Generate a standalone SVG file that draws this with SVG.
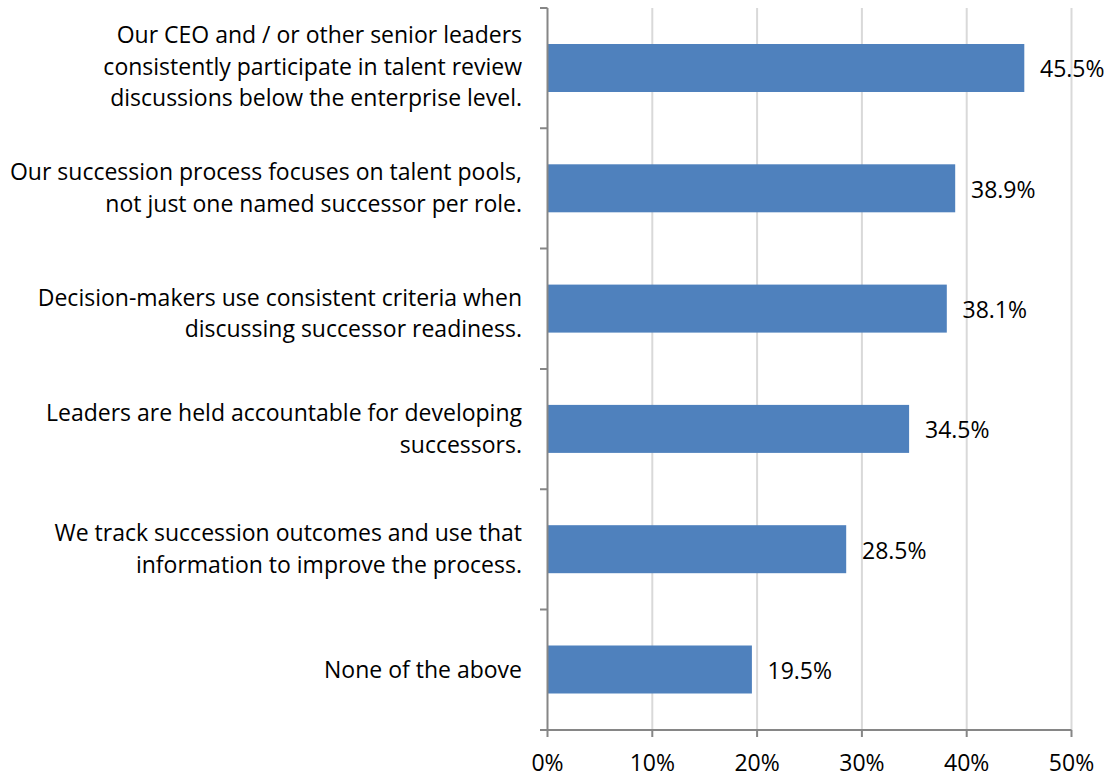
<svg xmlns="http://www.w3.org/2000/svg" width="1112" height="777" viewBox="0 0 1112 777">
<style>
.t{font-family:"Open Sans","Liberation Sans",Arial,sans-serif;font-size:23px;fill:#000}
.c{text-anchor:end}
.m{text-anchor:middle}
.g{stroke:#D9D9D9;stroke-width:2}
.a{stroke:#868686;stroke-width:2;fill:none}
.b{fill:#4F81BD}
</style>
<rect width="1112" height="777" fill="#fff"/>
<g id="grid">
<line class="g" x1="652.3" y1="8" x2="652.3" y2="730"/>
<line class="g" x1="757.1" y1="8" x2="757.1" y2="730"/>
<line class="g" x1="861.9" y1="8" x2="861.9" y2="730"/>
<line class="g" x1="966.7" y1="8" x2="966.7" y2="730"/>
<line class="g" x1="1071.5" y1="8" x2="1071.5" y2="730"/>
</g>
<g id="bars">
<rect id="bar1" class="b" x="547.5" y="44" width="476.8" height="48"/>
<rect id="bar2" class="b" x="547.5" y="164.3" width="407.7" height="48"/>
<rect id="bar3" class="b" x="547.5" y="284.6" width="399.3" height="48"/>
<rect id="bar4" class="b" x="547.5" y="404.9" width="361.6" height="48"/>
<rect id="bar5" class="b" x="547.5" y="525.2" width="298.7" height="48"/>
<rect id="bar6" class="b" x="547.5" y="645.5" width="204.4" height="48"/>
</g>
<g id="axes">
<path class="a" d="M547.5 8V730H1071.5"/>
<path class="a" d="M540 8H547.5M540 128.3H547.5M540 248.6H547.5M540 368.9H547.5M540 489.2H547.5M540 609.5H547.5M540 730H547.5"/>
<path class="a" d="M547.5 730V737M652.3 730V737M757.1 730V737M861.9 730V737M966.7 730V737M1071.5 730V737"/>
</g>
<g id="category-labels">
<text class="t c" x="522" y="43">Our CEO and / or other senior leaders</text>
<text class="t c" x="522" y="74.5">consistently participate in talent review</text>
<text class="t c" x="522" y="106">discussions below the enterprise level.</text>
<text class="t c" x="522" y="180">Our succession process focuses on talent pools,</text>
<text class="t c" x="522" y="211.5">not just one named successor per role.</text>
<text class="t c" x="522" y="305.5">Decision-makers use consistent criteria when</text>
<text class="t c" x="522" y="337">discussing successor readiness.</text>
<text class="t c" x="522" y="421">Leaders are held accountable for developing</text>
<text class="t c" x="522" y="452.5">successors.</text>
<text class="t c" x="522" y="541">We track succession outcomes and use that</text>
<text class="t c" x="522" y="572.5">information to improve the process.</text>
<text class="t c" x="522" y="677.5">None of the above</text>
</g>
<g id="value-labels">
<text class="t" x="1040" y="77">45.5%</text>
<text class="t" x="971" y="197.5">38.9%</text>
<text class="t" x="962.5" y="318">38.1%</text>
<text class="t" x="925" y="438">34.5%</text>
<text class="t" x="862" y="558.5">28.5%</text>
<text class="t" x="767.5" y="679">19.5%</text>
</g>
<g id="axis-labels">
<text class="t m" x="547.5" y="771">0%</text>
<text class="t m" x="652.3" y="771">10%</text>
<text class="t m" x="757.1" y="771">20%</text>
<text class="t m" x="861.9" y="771">30%</text>
<text class="t m" x="966.7" y="771">40%</text>
<text class="t m" x="1071.5" y="771">50%</text>
</g>
</svg>
